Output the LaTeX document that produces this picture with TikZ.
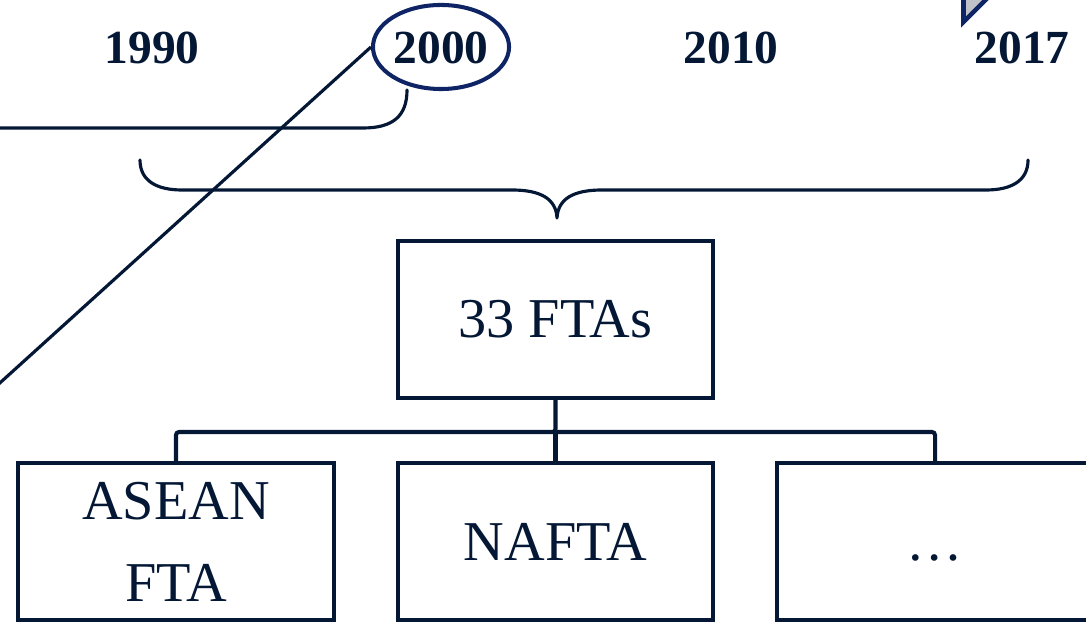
\documentclass[tikz,border=0pt]{standalone}
\usepackage{fontspec}
\setmainfont{Liberation Serif}
\usetikzlibrary{shapes.geometric}
\definecolor{ink}{RGB}{4,24,54}
\definecolor{navy}{RGB}{14,36,100}
\definecolor{pale}{RGB}{192,194,200}
\tikzset{
  year/.style={font=\fontsize{13.5}{16}\selectfont\bfseries, text=ink, inner sep=0pt},
  ftabox/.style={draw=ink, line width=1.15pt, minimum width=3.15cm, minimum height=1.57cm,
    inner sep=0pt, align=center, text=ink, font=\fontsize{16}{23.3}\selectfont},
  conn/.style={draw=ink, line width=1.15pt},
  thin/.style={draw=ink, line width=0.9pt}
}
\begin{document}
\begin{tikzpicture}[x=0.01cm,y=-0.01cm]
\useasboundingbox (0,0) rectangle (1086,622);
\clip (0,0) rectangle (1086,622);
% years
\node[year] (y1990) at (152,48) {1990};
\node[year] (y2000) at (441,48) {2000};
\node[year] (y2010) at (731,48) {2010};
\node[year] (y2017) at (1022,48) {2017};
% ellipse around 2000
\node[ellipse, draw=navy, line width=1.15pt, minimum width=1.36cm, minimum height=0.84cm, inner sep=0pt] (e2000) at (441,47) {};
% triangle top right
\draw[draw=navy, line width=1.3pt, fill=pale, line join=miter] (963.5,22) -- (963.5,-20) -- (1005.5,-20) -- cycle;
% left bracket line
\coordinate (bl) at (-20,128);
\coordinate (be) at (407,90);
\path[thin, line cap=round] (bl) -- (363,128) .. controls (393,128) and (407,116) .. (be);
% diagonal line
\coordinate (dend) at (-30,410);
\path[thin] (e2000.west) -- (dend);
% brace
\coordinate (brL) at (140,160);
\coordinate (brR) at (1028,160);
\coordinate (brT) at (557,218);
\path[thin, line cap=round, line join=round] (brL) .. controls (140,181) and (157,190) .. (182,190) -- (512,190)
  .. controls (541,190) and (556,199) .. (brT)
  .. controls (558,199) and (573,190) .. (602,190) -- (986,190)
  .. controls (1011,190) and (1028,181) .. (brR);
% boxes
\node[ftabox] (fta) at (555.5,319.5) {33 FTAs};
\node[ftabox] (asean) at (176,541.5) {ASEAN\\FTA};
\node[ftabox] (nafta) at (555.5,541.5) {NAFTA};
\node[ftabox] (dots) at (935,541.5) {\smash{\raisebox{-5.4pt}{…}}};
% tree connectors
\coordinate (hub) at (555.5,432);
\path[conn, rounded corners=0.03cm] (fta.south) -- (hub) -| (asean.north);
\path[conn, rounded corners=0.03cm] (hub) -| (dots.north);
\path[conn] (hub) -- (nafta.north);
\end{tikzpicture}
\end{document}
